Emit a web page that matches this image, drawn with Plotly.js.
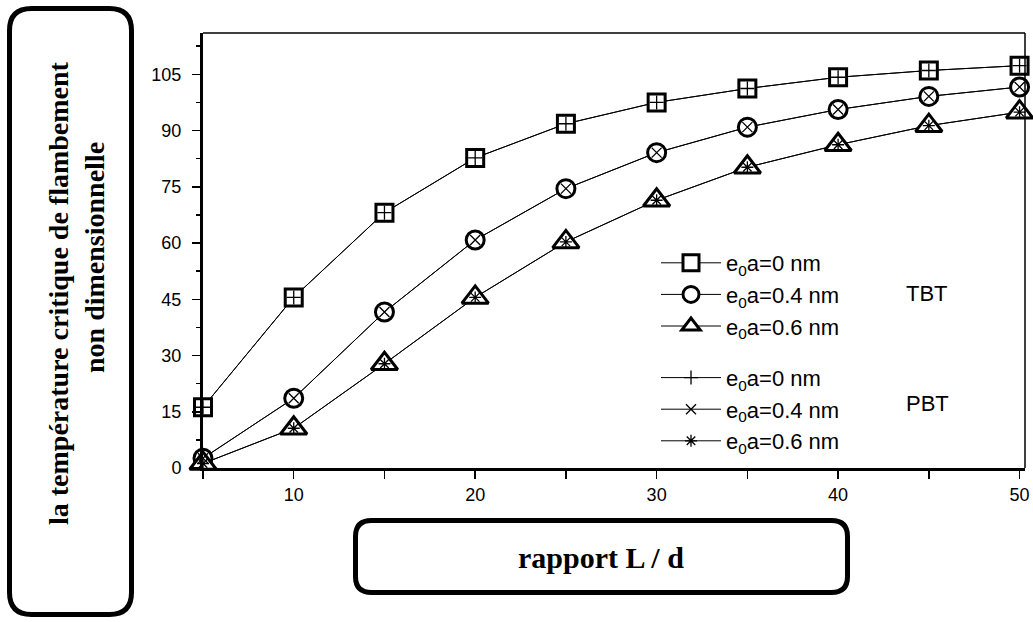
<!DOCTYPE html>
<html>
<head>
<meta charset="utf-8">
<script src="https://cdn.plot.ly/plotly-3.0.1.min.js"></script>
<style>html,body{margin:0;padding:0;background:#fff;}#chart{width:1033px;height:622px;}</style>
</head>
<body>
<div id="chart"></div>
<script>
// ---- data ----
var ratioLd = [5, 10, 15, 20, 25, 30, 35, 40, 45, 50];
var tbt_e0 = [16.2, 45.5, 68.1, 82.7, 91.8, 97.5, 101.2, 104.2, 106.0, 107.3];
var tbt_e04 = [2.6, 18.6, 41.6, 60.8, 74.5, 84.1, 90.9, 95.6, 99.1, 101.6];
var tbt_e06 = [1.2, 10.6, 27.8, 45.5, 60.3, 71.4, 80.2, 86.2, 91.3, 94.9];
var pbt_e0 = [16.2, 45.5, 68.1, 82.7, 91.8, 97.5, 101.2, 104.2, 106.0, 107.3];
var pbt_e04 = [2.6, 18.6, 41.6, 60.8, 74.5, 84.1, 90.9, 95.6, 99.1, 101.6];
var pbt_e06 = [1.2, 10.6, 27.8, 45.5, 60.3, 71.4, 80.2, 86.2, 91.3, 94.9];
var seriesNames = ['e<sub>0</sub>a=0 nm', 'e<sub>0</sub>a=0.4 nm', 'e<sub>0</sub>a=0.6 nm'];
var yTicks = [0, 15, 30, 45, 60, 75, 90, 105];
var xTicks = [10, 20, 30, 40, 50];

// ---- layout geometry (pixels) ----
var W = 1033, H = 622, L = 203, R = 1025, T = 33, B = 468;
function fx(px) { return (px - L) / (R - L); }
function fy(py) { return (B - py) / (B - T); }
function roundRect(x0, y0, x1, y1, r) {
  var p = [];
  p.push('M' + fx(x0 + r) + ',' + fy(y0));
  p.push('L' + fx(x1 - r) + ',' + fy(y0));
  p.push('Q' + fx(x1) + ',' + fy(y0) + ' ' + fx(x1) + ',' + fy(y0 + r));
  p.push('L' + fx(x1) + ',' + fy(y1 - r));
  p.push('Q' + fx(x1) + ',' + fy(y1) + ' ' + fx(x1 - r) + ',' + fy(y1));
  p.push('L' + fx(x0 + r) + ',' + fy(y1));
  p.push('Q' + fx(x0) + ',' + fy(y1) + ' ' + fx(x0) + ',' + fy(y1 - r));
  p.push('L' + fx(x0) + ',' + fy(y0 + r));
  p.push('Q' + fx(x0) + ',' + fy(y0) + ' ' + fx(x0 + r) + ',' + fy(y0));
  p.push('Z');
  return p.join(' ');
}

var lineStyle = {color: 'black', width: 1};
var traces = [];
var pbtData = [pbt_e0, pbt_e04, pbt_e06];
var tbtData = [tbt_e0, tbt_e04, tbt_e06];
var pbtSymbols = ['cross-thin-open', 'x-thin-open', 'asterisk-open'];
var tbtSymbols = ['square', 'circle', 'triangle-up'];
var tbtSizes = [17, 18, 23];

// PBT lines + markers (bottom layer, legend entries)
for (var i = 0; i < 3; i++) {
  traces.push({
    x: ratioLd, y: pbtData[i], mode: 'lines+markers', name: seriesNames[i],
    legendgroup: 'pbt', legendrank: 10 + i,
    line: lineStyle,
    marker: {symbol: pbtSymbols[i], size: 10, color: 'black', line: {color: 'black', width: 1.3}},
    cliponaxis: false
  });
}
// TBT lines + white-filled markers
for (var j = 0; j < 3; j++) {
  traces.push({
    x: ratioLd, y: tbtData[j], mode: 'lines+markers', name: seriesNames[j],
    legendgroup: 'tbt', legendrank: j,
    line: lineStyle,
    marker: {symbol: tbtSymbols[j], size: tbtSizes[j], color: 'white', line: {color: 'black', width: 3}},
    cliponaxis: false
  });
}
// PBT markers drawn on top of the TBT markers
for (var k = 0; k < 3; k++) {
  traces.push({
    x: ratioLd, y: pbtData[k], mode: 'markers', showlegend: false,
    marker: {symbol: pbtSymbols[k], size: 10, color: 'black', line: {color: 'black', width: 1.3}},
    cliponaxis: false
  });
}

var layout = {
  width: W, height: H,
  margin: {l: L, r: W - R, t: T, b: H - B, pad: 0},
  paper_bgcolor: 'white', plot_bgcolor: 'white',
  showlegend: true,
  font: {family: 'Liberation Sans, Arial, sans-serif', color: 'black'},
  xaxis: {
    range: [5, 50.3], showgrid: false, zeroline: false,
    tickmode: 'array', tickvals: xTicks, ticktext: xTicks.map(String),
    ticks: 'outside', ticklen: 8, tickwidth: 1.5, tickcolor: 'black',
    minor: {dtick: 5, tick0: 5, ticks: 'outside', ticklen: 8, tickwidth: 1.5, tickcolor: 'black', showgrid: false},
    showline: true, linewidth: 3, linecolor: 'black',
    tickfont: {size: 18, family: 'Liberation Sans, Arial, sans-serif', color: 'black'}
  },
  yaxis: {
    range: [0, 116], showgrid: false, zeroline: false,
    tickmode: 'array', tickvals: yTicks, ticktext: yTicks.map(String),
    ticks: 'outside', ticklen: 8, tickwidth: 1.5, tickcolor: 'black',
    minor: {dtick: 7.5, tick0: 0, ticks: 'outside', ticklen: 4, tickwidth: 1.5, tickcolor: 'black', showgrid: false},
    showline: true, linewidth: 3, linecolor: 'black',
    ticklabelstandoff: 7,
    tickfont: {size: 18, family: 'Liberation Sans, Arial, sans-serif', color: 'black'}
  },
  legend: {
    x: fx(656), y: fy(242), xanchor: 'left', yanchor: 'top',
    traceorder: 'grouped', tracegroupgap: 20,
    bgcolor: 'rgba(0,0,0,0)', borderwidth: 0,
    itemwidth: 60,
    font: {size: 22, family: 'Liberation Sans, Arial, sans-serif', color: 'black'}
  },
  shapes: [
    {type: 'line', xref: 'x domain', yref: 'y domain', x0: 0, x1: 1, y0: 1, y1: 1, line: {color: 'black', width: 1.5}},
    {type: 'line', xref: 'x domain', yref: 'y domain', x0: 1, x1: 1, y0: 0, y1: 1, line: {color: 'black', width: 1.5}},
    {type: 'path', xref: 'paper', yref: 'paper', path: roundRect(9.5, 8.5, 131.5, 614.5, 22), line: {color: 'black', width: 5}, fillcolor: 'rgba(0,0,0,0)'},
    {type: 'path', xref: 'paper', yref: 'paper', path: roundRect(355.5, 520.5, 847.5, 592.5, 16), line: {color: 'black', width: 5}, fillcolor: 'rgba(0,0,0,0)'}
  ],
  annotations: [
    {xref: 'paper', yref: 'paper', x: fx(58), y: fy(293), text: 'la température critique de flambement', textangle: -90, showarrow: false,
     font: {family: 'Liberation Serif, Times New Roman, serif', size: 28, color: 'black', weight: 'bold'}, xanchor: 'center', yanchor: 'middle'},
    {xref: 'paper', yref: 'paper', x: fx(94), y: fy(258), text: 'non dimensionnelle', textangle: -90, showarrow: false,
     font: {family: 'Liberation Serif, Times New Roman, serif', size: 28, color: 'black', weight: 'bold'}, xanchor: 'center', yanchor: 'middle'},
    {xref: 'paper', yref: 'paper', x: fx(601), y: fy(557), text: 'rapport L / d', showarrow: false,
     font: {family: 'Liberation Serif, Times New Roman, serif', size: 30, color: 'black', weight: 'bold'}, xanchor: 'center', yanchor: 'middle'},
    {xref: 'paper', yref: 'paper', x: fx(927), y: fy(293), text: 'TBT', showarrow: false,
     font: {size: 22, color: 'black'}, xanchor: 'center', yanchor: 'middle'},
    {xref: 'paper', yref: 'paper', x: fx(927), y: fy(403), text: 'PBT', showarrow: false,
     font: {size: 22, color: 'black'}, xanchor: 'center', yanchor: 'middle'}
  ]
};

Plotly.newPlot('chart', traces, layout, {displayModeBar: false, staticPlot: true});
</script>
</body>
</html>
